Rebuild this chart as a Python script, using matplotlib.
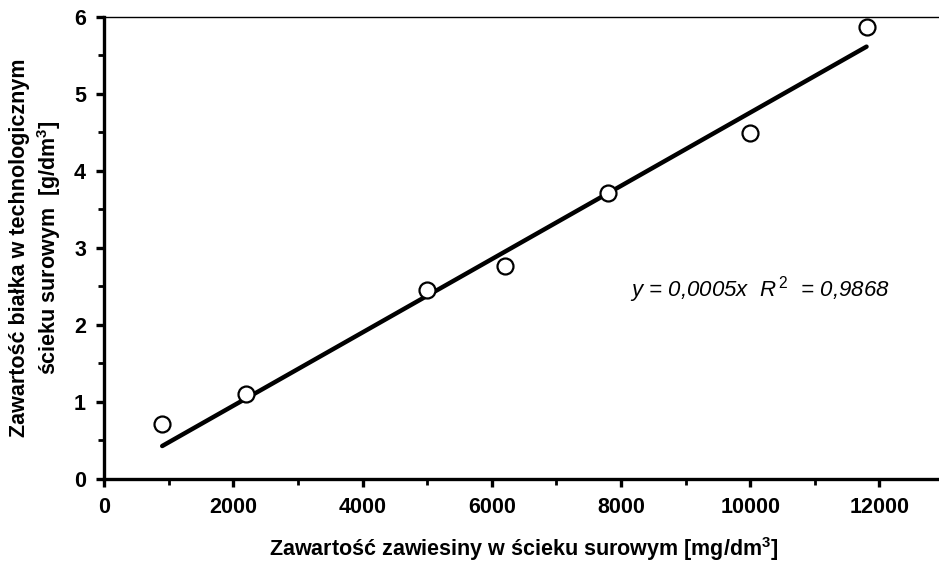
import matplotlib
matplotlib.use("Agg")
import matplotlib.pyplot as plt
import numpy as np
from matplotlib.ticker import MultipleLocator

# --- Data ---
zawiesina = [900, 2200, 5000, 6200, 7800, 10000, 11800]      # mg/dm3
bialko = [0.72, 1.10, 2.46, 2.76, 3.72, 4.49, 5.87]          # g/dm3

x_ticks = [0, 2000, 4000, 6000, 8000, 10000, 12000]
y_ticks = [0, 1, 2, 3, 4, 5, 6]

plt.rcParams['font.family'] = ['Liberation Sans', 'DejaVu Sans']
plt.rcParams['mathtext.fontset'] = 'custom'
plt.rcParams['mathtext.rm'] = 'Liberation Sans'
plt.rcParams['mathtext.it'] = 'Liberation Sans:italic'
plt.rcParams['mathtext.bf'] = 'Liberation Sans:bold'

fig = plt.figure(figsize=(9.39, 5.68), dpi=100)
ax = fig.add_axes([0.1108, 0.1567, 0.8946, 0.8134])

# trend line through origin (least squares), drawn across the data range
x = np.array(zawiesina, dtype=float)
y = np.array(bialko)
slope = (x * y).sum() / (x * x).sum()
xl = np.array([x.min(), x.max()])
ax.plot(xl, slope * xl, color='black', lw=3.2, solid_capstyle='round', zorder=2)

ax.plot(zawiesina, bialko, 'o', ms=11.5, mfc='white', mec='black', mew=1.6,
        zorder=3, clip_on=False)

ax.text(0.626, 0.41, r'$y$ = 0,0005$x$  $R^{\,2}$  = 0,9868', transform=ax.transAxes,
        fontsize=16, style='italic', ha='left', va='center')

ax.set_xlim(0, 13000)
ax.set_ylim(0, 6)
ax.set_xticks(x_ticks)
ax.set_yticks(y_ticks)
ax.xaxis.set_minor_locator(MultipleLocator(1000))
ax.yaxis.set_minor_locator(MultipleLocator(0.5))

ax.spines['right'].set_visible(False)
ax.spines['top'].set_linewidth(1.0)
ax.spines['left'].set_linewidth(2.4)
ax.spines['bottom'].set_linewidth(2.4)

ax.tick_params(which='major', direction='out', length=6, width=2.4,
               labelsize=15.5, pad=7)
ax.tick_params(which='minor', direction='out', length=4, width=2.0)
ax.tick_params(top=False, right=False, which='both')
for lab in ax.get_xticklabels() + ax.get_yticklabels():
    lab.set_fontweight('bold')

ax.set_xlabel('Zawartość zawiesiny w ścieku surowym [mg/dm$^\\mathbf{3}$]',
              fontsize=15.5, fontweight='bold', labelpad=12)
ax.set_ylabel('Zawartość białka w technologicznym\nścieku surowym  [g/dm$^\\mathbf{3}$]',
              fontsize=15.5, fontweight='bold', labelpad=8, linespacing=1.25)

fig.savefig('out.png', dpi=100)
